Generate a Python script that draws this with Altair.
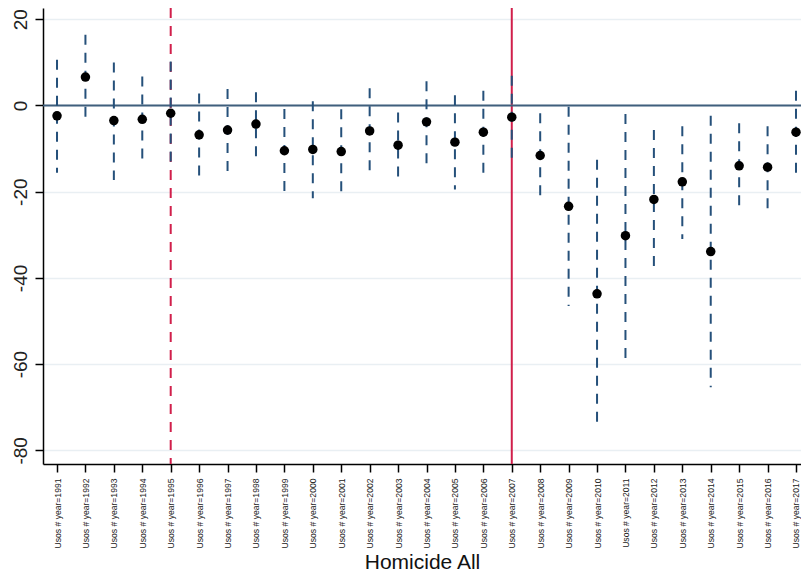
import altair as alt
import pandas as pd

years = list(range(1991, 2018))
coef = [-2.4, 6.6, -3.5, -3.2, -1.8, -6.8, -5.7, -4.3, -10.5, -10.2, -10.7, -5.9, -9.2, -3.8,
        -8.5, -6.2, -2.7, -11.6, -23.4, -43.7, -30.2, -21.8, -17.7, -33.9, -14.0, -14.3, -6.2]
upper = [10.6, 16.4, 10.0, 6.7, 10.2, 2.8, 3.8, 3.1, -0.8, 1.0, -0.9, 4.0, -1.6, 5.6,
         2.4, 3.4, 6.9, -1.8, -0.3, -12.6, -2.0, -5.7, -4.8, -2.4, -4.1, -4.8, 3.4]
lower = [-15.6, -3.1, -17.3, -13.6, -13.8, -16.7, -15.4, -12.8, -21.2, -21.5, -20.5, -16.3, -17.5, -14.7,
         -19.5, -16.0, -12.5, -21.5, -46.5, -75.0, -58.6, -38.0, -31.0, -65.4, -23.9, -24.8, -16.1]
y_ticks = [-80, -60, -40, -20, 0, 20]
dashed_year = [1995]
solid_year = [2007]
zero_line = [0]

df = pd.DataFrame({"year": years, "coef": coef, "upper": upper, "lower": lower})

xscale = alt.Scale(domain=[1990.507, 2017.176], nice=False, zero=False)
yscale = alt.Scale(domain=[-83.18, 22.62], nice=False, zero=False)

xaxis = alt.Axis(values=years, labelExpr="'Usos # year=' + datum.value", labelAngle=-90,
                 labelAlign="right", labelBaseline="middle", labelFontSize=8.6, labelColor="#222222",
                 labelOverlap=False, labelBound=False,
                 tickSize=8, labelPadding=6, title="Homicide All", titleFontSize=21,
                 titleFontWeight="normal", titleBaseline="alphabetic", titleY=104,
                 titleColor="#111111", grid=False,
                 domainColor="#000000", tickColor="#000000", domainWidth=1.5, tickWidth=1.5,
                 labelFont="Liberation Sans", titleFont="Liberation Sans")
yaxis = alt.Axis(values=y_ticks, labelExpr="'' + datum.value", labelAngle=-90, labelAlign="center",
                 labelBaseline="bottom", labelOverlap=False,
                 labelFontSize=19, labelColor="#222222", tickSize=8, labelPadding=5, title=None,
                 grid=True, gridColor="#e9eff3", gridWidth=1.5, domainColor="#000000",
                 tickColor="#000000", domainWidth=1.5, tickWidth=1.5, labelFont="Liberation Sans")

base = alt.Chart(df)

red_dashed = alt.Chart(pd.DataFrame({"x": dashed_year})).mark_rule(
    color="#d11f4b", strokeWidth=2, strokeDash=[10, 8]).encode(
    x=alt.X("x:Q", scale=xscale, axis=xaxis))
red_solid = alt.Chart(pd.DataFrame({"x": solid_year})).mark_rule(
    color="#d11f4b", strokeWidth=2).encode(x=alt.X("x:Q", scale=xscale, axis=xaxis))
zero = alt.Chart(pd.DataFrame({"y": zero_line})).mark_rule(
    color="#3f5f7c", strokeWidth=2).encode(y=alt.Y("y:Q", scale=yscale, axis=yaxis))

ci = base.mark_rule(color="#25507a", strokeWidth=2, strokeDash=[10, 8]).encode(
    x=alt.X("year:Q", scale=xscale, axis=xaxis),
    y=alt.Y("upper:Q", scale=yscale, axis=yaxis),
    y2="lower:Q")
pts = base.mark_circle(color="black", opacity=1, size=90).encode(
    x=alt.X("year:Q", scale=xscale, axis=xaxis),
    y=alt.Y("coef:Q", scale=yscale, axis=yaxis))

chart = alt.layer(red_dashed, red_solid, zero, ci, pts).properties(
    width=758, height=456,
    autosize=alt.AutoSizeParams(type="none"),
    padding={"left": 35, "top": 0, "right": 0, "bottom": 109},
    background="white",
).configure_view(stroke=None).configure_axis(labelOverlap=False)

chart.save("out.html", embed_options={"renderer": "svg", "actions": False})
